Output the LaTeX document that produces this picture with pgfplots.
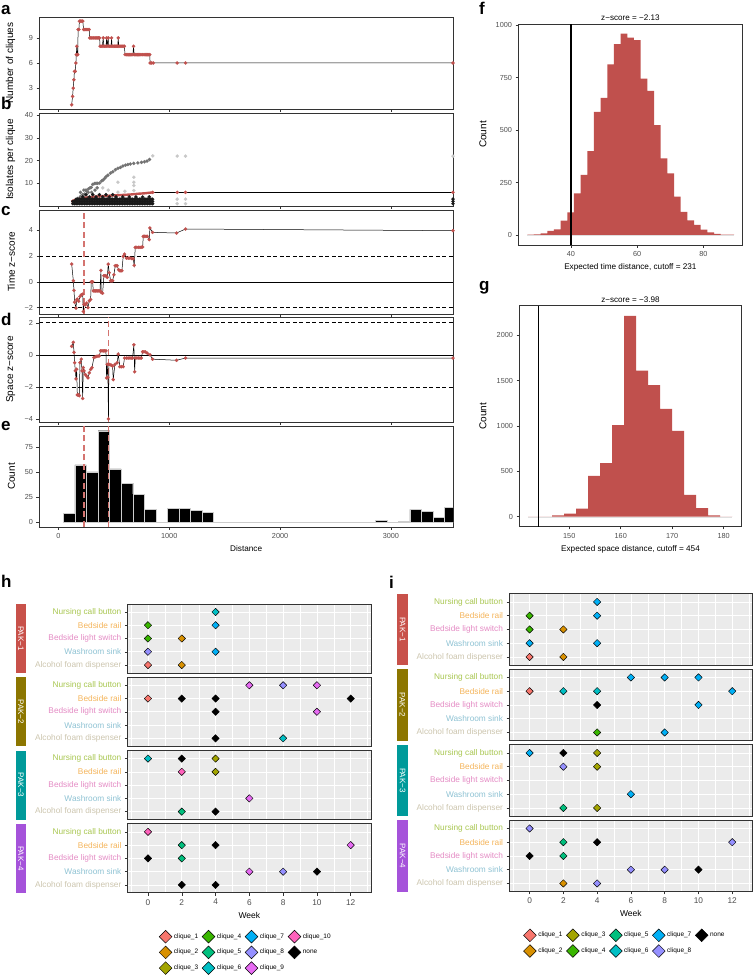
\documentclass[border=0pt]{standalone}
\usepackage{fontspec}
\setmainfont{Liberation Sans}
\usepackage{pgfplots}
\usepackage{pgfplotstable}
\pgfplotsset{compat=1.18}

\definecolor{redb}{RGB}{192,80,77}
\definecolor{reddash}{RGB}{212,116,112}
\definecolor{gg92}{RGB}{235,235,235}
\definecolor{gg20}{RGB}{51,51,51}
\definecolor{gg30}{RGB}{77,77,77}
\definecolor{cl1}{HTML}{F8766D}
\definecolor{cl2}{HTML}{D89000}
\definecolor{cl3}{HTML}{A3A500}
\definecolor{cl4}{HTML}{39B600}
\definecolor{cl5}{HTML}{00BF7D}
\definecolor{cl6}{HTML}{00BFC4}
\definecolor{cl7}{HTML}{00B0F6}
\definecolor{cl8}{HTML}{9590FF}
\definecolor{cl9}{HTML}{E76BF3}
\definecolor{cl10}{HTML}{FF62BC}
\definecolor{nurse}{HTML}{A8C650}
\definecolor{rail}{HTML}{F4B45A}
\definecolor{lightsw}{HTML}{E48BC4}
\definecolor{sink}{HTML}{8EC2D3}
\definecolor{alc}{HTML}{CCC5AE}
\definecolor{pak1}{HTML}{C8514A}
\definecolor{pak2}{HTML}{8C7600}
\definecolor{pak3}{HTML}{009A9A}
\definecolor{pak4}{HTML}{A553DA}
\definecolor{bfaint}{RGB}{200,200,200}
\definecolor{bmid}{RGB}{115,115,115}
\definecolor{bdark}{RGB}{25,25,25}

\tikzset{strip/.style={fill=#1, text=white, rotate=-90, inner sep=0pt, minimum height=10.4pt, font=\fontsize{8}{9}\selectfont}}

\pgfplotsset{
 gg/.style={scale only axis, axis line style={draw=gg20, line width=0.8pt},
   tick style={draw=gg20, line width=0.5pt}, major tick length=2.8pt, minor tick length=0pt,
   tick align=outside, tick pos=left,
   tick label style={font=\fontsize{7.3}{8}\selectfont, text=gg30},
   label style={font=\fontsize{8.2}{9}\selectfont},
   /pgf/number format/assume math mode=true, /pgf/number format/1000 sep={}},
 leftp/.style={gg, anchor=north west, width=413.7pt, xmin=-172, xmax=3560,
   xtick={0,1000,2000,3000},
   every axis y label/.style={at={(axis description cs:-0.05,0.5)}, anchor=south, rotate=90}},
 histp/.style={gg, anchor=north west, height=221pt,
   every axis title/.style={at={(axis description cs:0.5,1)}, anchor=south, font=\fontsize{8.1}{9}\selectfont}},
 facet/.style={gg, anchor=north west, width=243.3pt, height=69pt, clip=false,
   xmin=-1.2, xmax=13.2, ymin=0.4, ymax=5.6,
   axis background/.style={fill=gg92},
   xtick={0,2,...,12}, minor xtick={-1,1,...,13}, ytick={1,2,3,4,5},
   yticklabels={{\textcolor{alc}{Alcohol foam dispenser}},{\textcolor{sink}{Washroom sink}},{\textcolor{lightsw}{Bedside light switch}},{\textcolor{rail}{Bedside rail}},{\textcolor{nurse}{Nursing call button}}},
   xmajorgrids, xminorgrids, ymajorgrids,
   major grid style={white, line width=0.6pt}, minor grid style={white, line width=0.3pt},
   tick label style={font=\fontsize{8.3}{9}\selectfont},
   label style={font=\fontsize{8.5}{9}\selectfont, text=black}},
 topfacet/.style={facet, xticklabels={}, xtick style={draw=none}},
 isodot/.style={only marks, mark=*, mark size=1.7pt, color=#1, mark options={fill=#1, draw=#1, line width=0.1pt}},
}

\newcommand{\dm}[2]{\addplot[forget plot, only marks, mark=square*, mark size=2.6pt, mark options={rotate=45, fill=#1, draw=black, line width=0.45pt}] coordinates {#2};}
\newcommand{\lgd}[2]{\addlegendimage{only marks, mark=square*, mark size=4.5pt, mark options={rotate=45, fill=#1, draw=black, line width=0.5pt}}\addlegendentry{#2}}

\pgfplotstableread[row sep=\\]{x y\\
120 1\\128 2\\134 3\\140 4\\145 5\\152 5\\158 6\\162 7\\166 8\\170 7\\175 7\\178 10\\185 10\\190 11\\200 11\\210 11\\220 11\\228 10\\238 10\\248 10\\258 10\\268 10\\278 10\\282 9\\292 9\\302 9\\312 9\\322 9\\332 9\\342 9\\352 9\\362 9\\372 9\\376 8\\386 8\\396 8\\405 9\\410 8\\420 8\\430 8\\435 9\\440 8\\450 9\\455 8\\465 8\\475 8\\480 9\\485 8\\495 8\\505 8\\515 8\\525 8\\535 8\\540 9\\545 8\\555 8\\565 8\\575 8\\585 8\\595 8\\602 7\\612 7\\622 7\\632 7\\642 7\\652 7\\662 7\\672 7\\678 8\\684 7\\694 7\\704 7\\714 7\\724 7\\734 7\\744 7\\754 7\\764 7\\774 7\\784 7\\794 7\\804 7\\814 7\\824 7\\828 6\\840 6\\856 6\\1072 6\\1147 6\\3560 6\\
}\tabA

% b: dense lower band of cliques
\pgfplotstableread[row sep=\\]{x y\\
130 1\\130 2\\145 1\\145 2\\160 1\\160 2\\160 3\\175 1\\175 2\\175 3\\190 1\\190 2\\190 3\\205 1\\205 2\\205 3\\220 1\\220 2\\220 3\\235 1\\235 2\\235 3\\250 1\\250 2\\250 3\\265 1\\265 2\\265 3\\280 1\\280 2\\280 3\\295 1\\295 2\\295 3\\310 1\\310 2\\310 3\\325 1\\325 2\\325 3\\340 1\\340 2\\340 3\\355 1\\355 2\\355 3\\370 1\\370 2\\370 3\\385 1\\385 2\\385 3\\400 1\\400 2\\400 3\\415 1\\415 2\\415 3\\430 1\\430 2\\430 3\\445 1\\445 2\\445 3\\460 1\\460 2\\460 3\\475 1\\475 2\\475 3\\490 1\\490 2\\490 3\\505 1\\505 2\\505 3\\520 1\\520 2\\520 3\\535 1\\535 2\\535 3\\550 1\\550 2\\550 3\\565 1\\565 2\\565 3\\580 1\\580 2\\580 3\\595 1\\595 2\\595 3\\610 1\\610 2\\610 3\\625 1\\625 2\\625 3\\640 1\\640 2\\640 3\\655 1\\655 2\\655 3\\670 1\\670 2\\670 3\\685 1\\685 2\\685 3\\700 1\\700 2\\700 3\\715 1\\715 2\\715 3\\730 1\\730 2\\730 3\\745 1\\745 2\\745 3\\760 1\\760 2\\760 3\\775 1\\775 2\\775 3\\790 1\\790 2\\790 3\\805 1\\805 2\\805 3\\820 1\\820 2\\820 3\\835 1\\835 2\\835 3\\850 1\\850 2\\850 3\\
220 4\\250 5\\280 4\\310 5\\340 4\\370 5\\400 4\\430 5\\460 4\\490 5\\520 4\\580 4\\640 4\\700 4\\760 4\\820 4\\3560 1\\3560 2\\3560 3\\
}\tabBlow

% b: upper band (largest clique)
\pgfplotstableread[row sep=\\]{x y\\
177 3.4\\200 4.2\\220 5.0\\237 5.3\\255 6.5\\270 7.5\\285 8.0\\297 8.2\\310 9.5\\327 9.9\\340 10\\355 10\\372 10.1\\390 11\\405 11.5\\418 12.2\\432 13\\447 13.6\\470 14.5\\492 15.1\\515 16\\537 16.6\\560 17\\582 17.6\\605 18\\627 18.3\\650 18.5\\680 18.8\\717 19\\750 19.2\\777 19.5\\800 19.8\\822 20.5\\
200 6\\230 7\\250 7\\270 6\\300 6\\330 7\\350 8\\
}\tabBup

% b: sparse points
\pgfplotstableread[row sep=\\]{x y\\
852 22.1\\1072 22\\1147 22\\3560 22\\400 8\\450 7\\537 10.5\\537 6.1\\600 6.5\\681 10.5\\681 12.7\\681 6.8\\681 9\\1072 3\\1147 3\\1072 1\\1147 1\\
}\tabBfaint

\pgfplotstableread[row sep=\\]{x y\\
117 1.9\\130 2.2\\140 2.5\\155 2.8\\170 3.0\\185 3.2\\200 3.4\\220 3.55\\240 3.7\\255 3.75\\268 3.8\\285 3.9\\300 4.0\\325 4.1\\350 4.2\\385 4.3\\418 4.4\\450 4.5\\480 4.6\\510 4.7\\540 4.8\\570 4.85\\600 4.9\\630 5.0\\658 5.1\\690 5.25\\720 5.4\\750 5.5\\780 5.6\\815 5.8\\852 6.0\\
}\tabBred

\pgfplotstableread[row sep=\\]{x y\\
120 1.37\\135 0.08\\141 -0.67\\147 -1.58\\159 -2.04\\165 -1.4\\171 -1.34\\183 -1.5\\195 -1.14\\207 -1.0\\219 -0.96\\225 -2.3\\231 -1.75\\243 -1.78\\255 -1.65\\267 -2.0\\279 -1.47\\291 -1.37\\297 0\\303 0\\309 0\\315 -0.7\\325 -0.7\\335 -0.7\\345 -0.7\\355 -0.7\\365 -0.7\\375 -0.7\\384 0.88\\387 -0.83\\399 -0.88\\411 0.47\\420 0.47\\429 0.47\\441 0.34\\450 1.37\\459 0.7\\471 0.08\\480 0.08\\489 0.08\\501 0.54\\513 1.24\\522 1.24\\531 1.24\\543 0.93\\555 0.85\\564 0.85\\573 0.85\\585 1.96\\597 2.14\\615 1.83\\630 1.83\\645 1.83\\660 1.8\\675 1.78\\684 1.27\\694 2.66\\708 2.66\\722 2.66\\736 2.66\\748 2.67\\760 2.69\\766 3.51\\778 3.51\\790 3.51\\802 3.51\\820 3.26\\826 4.16\\850 3.82\\1066 3.77\\1147 4.08\\3560 3.95\\
}\tabC

\pgfplotstableread[row sep=\\]{x y\\
120 0.53\\135 0.78\\141 0.15\\147 -0.49\\153 -1.0\\159 -1.5\\165 -0.9\\171 -2.5\\177 -2.5\\183 -2.5\\189 -2.55\\195 -0.49\\207 -0.27\\213 -1.0\\219 -2.72\\225 -0.8\\231 -1.0\\243 -1.23\\255 -1.33\\267 -1.44\\279 -1.12\\291 -0.91\\303 -0.8\\321 -0.17\\333 -0.12\\345 -0.1\\357 -0.08\\369 -0.06\\381 0.25\\393 0.25\\405 0.25\\417 0.25\\429 0.25\\435 -1.44\\441 -0.6\\447 -1.4\\452 -4.0\\456 -0.6\\465 -0.6\\477 -0.65\\489 -0.7\\495 -1.55\\510 -0.6\\531 -0.49\\540 0.04\\555 -0.74\\570 -0.74\\585 -0.74\\597 -0.2\\615 -0.2\\630 -0.2\\645 -0.2\\657 -0.2\\669 -0.2\\681 0.63\\688 -1.06\\694 -0.2\\708 -0.2\\722 -0.2\\736 -0.2\\748 -0.2\\760 0.19\\772 0.19\\784 0.19\\802 0.1\\826 0.0\\850 -0.27\\1066 -0.34\\1147 -0.2\\3560 -0.2\\
}\tabD

\begin{document}
\begin{tikzpicture}
\path[use as bounding box] (0pt,0pt) rectangle (753pt,975pt);

% panel labels
\begin{scope}[every node/.style={font=\bfseries\fontsize{17}{17}\selectfont, anchor=base west, inner sep=0pt}]
\node at (1pt,960pt) {a};
\node at (1pt,865pt) {b};
\node at (1pt,759pt) {c};
\node at (1pt,649pt) {d};
\node at (1pt,544pt) {e};
\node at (479pt,960pt) {f};
\node at (479pt,684pt) {g};
\node at (1pt,387pt) {h};
\node at (389pt,386pt) {i};
\end{scope}

% ---- a
\begin{axis}[leftp, at={(39.3pt,958pt)}, height=92pt, ymin=0.5, ymax=11.5, ytick={3,6,9}, xticklabels={}, ylabel={Number of cliques}]
\addplot[black, line width=0.5pt] table {\tabA};
\addplot[isodot=redb] table {\tabA};
\end{axis}

% ---- b
\begin{axis}[leftp, at={(39.3pt,862pt)}, height=93pt, ymin=0, ymax=41, ytick={10,20,30,40}, xticklabels={}, ylabel={Isolates per clique}]
\addplot[isodot=bfaint] table {\tabBfaint};
\addplot[isodot=bmid] table {\tabBup};
\addplot[isodot=bdark] table {\tabBlow};
\addplot[black, line width=0.5pt] coordinates {(852,6.0)(3560,6.0)};
\addplot[redb, line width=2.4pt] table {\tabBred};
\addplot[isodot=redb] coordinates {(852,6.0)(1072,6.0)(1147,6.0)(3560,6.0)};
\end{axis}

% ---- c
\begin{axis}[leftp, at={(39.3pt,765pt)}, height=104pt, ymin=-2.49, ymax=5.55, ytick={-2,0,2,4}, yticklabels={−2,0,2,4}, xticklabels={}, ylabel={Time z−score}]
\addplot[black, line width=0.5pt] coordinates {(-172,0)(3560,0)};
\addplot[black, line width=0.6pt, dash pattern=on 4pt off 2.5pt] coordinates {(-172,2)(3560,2)};
\addplot[black, line width=0.6pt, dash pattern=on 4pt off 2.5pt] coordinates {(-172,-2)(3560,-2)};
\addplot[reddash, line width=1.2pt, dash pattern=on 6pt off 3.5pt] coordinates {(231,-2.49)(231,5.55)};
\addplot[black, line width=0.5pt] table {\tabC};
\addplot[isodot=redb] table {\tabC};
\end{axis}

% ---- d
\begin{axis}[leftp, at={(39.3pt,658pt)}, height=105pt, ymin=-4.19, ymax=2.36, ytick={-4,-2,0,2}, yticklabels={−4,−2,0,2}, xticklabels={}, ylabel={Space z−score}]
\addplot[black, line width=0.5pt] coordinates {(-172,0)(3560,0)};
\addplot[black, line width=0.6pt, dash pattern=on 4pt off 2.5pt] coordinates {(-172,2)(3560,2)};
\addplot[black, line width=0.6pt, dash pattern=on 4pt off 2.5pt] coordinates {(-172,-2)(3560,-2)};
\addplot[reddash, line width=1.2pt, dash pattern=on 6pt off 3.5pt] coordinates {(454,-4.19)(454,2.36)};
\addplot[black, line width=0.5pt] table {\tabD};
\addplot[isodot=redb] table {\tabD};
\end{axis}

% ---- e
\begin{axis}[leftp, at={(39.3pt,549pt)}, height=101pt, ymin=-4.55, ymax=95.6, ytick={0,25,50,75}, xlabel={Distance}, ylabel={Count}]
\addplot[gray!35, line width=0.5pt] coordinates {(45,0)(3588,0)};
\addplot[ybar interval, fill=black, draw=gray!40, line width=0.25pt] coordinates {(45,9)(149.2,57)(253.4,50)(357.6,91)(461.8,53)(566,39)(670.2,28)(774.4,13)(878.6,0)(982.8,14)(1087,14)(1191.2,12)(1295.4,10)(1399.6,0)(2858.4,2)(2962.6,0)(3066.8,1)(3171,13)(3275.2,11)(3379.4,5)(3483.6,15)(3587.8,15)};
\addplot[reddash, line width=1.2pt, dash pattern=on 6pt off 3.5pt] coordinates {(231,-4.55)(231,95.6)};
\addplot[reddash, line width=1.2pt, dash pattern=on 6pt off 3.5pt] coordinates {(454,-4.55)(454,95.6)};
\end{axis}

% ---- f
\begin{axis}[histp, at={(518.3pt,951pt)}, width=224.2pt, xmin=24.1, xmax=91.8, ymin=-48, ymax=1006,
  xtick={40,60,80}, ytick={0,250,500,750,1000},
  title={z−score = −2.13}, xlabel={Expected time distance, cutoff = 231}, ylabel={Count},
  every axis y label/.style={at={(axis description cs:-0.126,0.5)}, anchor=south, rotate=90}]
\addplot[gray!25, line width=0.4pt] coordinates {(26.81,0)(89.24,0)};
\addplot[ybar interval, fill=redb, draw=none] coordinates {(26.81,2)(28.82,3)(30.84,8)(32.85,19)(34.87,27)(36.88,68)(38.89,108)(40.91,198)(42.92,286)(44.94,400)(46.95,587)(48.96,654)(50.98,813)(52.99,910)(55.01,960)(57.02,941)(59.03,929)(61.05,746)(63.06,687)(65.08,524)(67.09,365)(69.10,294)(71.12,183)(73.13,110)(75.15,70)(77.16,48)(79.17,25)(81.19,12)(83.20,5)(85.22,2)(87.23,1)(89.24,1)};
\addplot[black, line width=1.1pt] coordinates {(40,-48)(40,1006)};
\end{axis}

% ---- g
\begin{axis}[histp, at={(519.3pt,669.3pt)}, width=222.4pt, xmin=140.3, xmax=183.5, ymin=-110, ymax=2326,
  xtick={150,160,170,180}, ytick={0,500,1000,1500,2000},
  title={z−score = −3.98}, xlabel={Expected space distance, cutoff = 454}, ylabel={Count},
  every axis y label/.style={at={(axis description cs:-0.132,0.5)}, anchor=south, rotate=90}]
\addplot[gray!25, line width=0.4pt] coordinates {(142.0,0)(181.67,0)};
\addplot[ybar interval, fill=redb, draw=none] coordinates {(142.0,0)(144.33,0)(146.67,15)(149.0,35)(151.33,90)(153.67,450)(156.0,590)(158.33,1010)(160.67,2215)(163.0,1610)(165.33,1450)(167.67,1190)(170.0,945)(172.33,240)(174.67,95)(177.0,15)(179.33,0)(181.67,0)};
\addplot[black, line width=1.1pt] coordinates {(144,-110)(144,2326)};
\end{axis}

% ---- h
\begin{axis}[topfacet, at={(127.7pt,371pt)}]
\node[strip=pak1, minimum width=69pt] at (axis description cs:-0.4386,0.5) {PAK−1};
\dm{cl6}{(4,5)}
\dm{cl4}{(0,4)(0,3)}
\dm{cl7}{(4,4)(4,2)}
\dm{cl2}{(2,3)(2,1)}
\dm{cl8}{(0,2)}
\dm{cl1}{(0,1)}
\end{axis}
\begin{axis}[topfacet, at={(127.7pt,297.7pt)}]
\node[strip=pak2, minimum width=69pt] at (axis description cs:-0.4386,0.5) {PAK−2};
\dm{cl9}{(6,5)(10,5)(10,3)}
\dm{cl8}{(8,5)}
\dm{cl1}{(0,4)}
\dm{black}{(2,4)(4,4)(12,4)(4,3)(4,1)}
\dm{cl6}{(8,1)}
\end{axis}
\begin{axis}[topfacet, at={(127.7pt,224.4pt)}]
\node[strip=pak3, minimum width=69pt] at (axis description cs:-0.4386,0.5) {PAK−3};
\dm{cl6}{(0,5)}
\dm{black}{(2,5)(4,1)}
\dm{cl3}{(4,5)(4,4)}
\dm{cl10}{(2,4)}
\dm{cl9}{(6,2)}
\dm{cl5}{(2,1)}
\end{axis}
\begin{axis}[facet, at={(127.7pt,151.1pt)}, xlabel={Week},
  legend columns=4, legend cell align=left,
  legend style={draw=none, fill=none, at={(axis description cs:0.486,-0.51)}, anchor=north,
    font=\fontsize{6.5}{7}\selectfont, row sep=3pt, /tikz/every even column/.append style={column sep=2pt}}]
\node[strip=pak4, minimum width=69pt] at (axis description cs:-0.4386,0.5) {PAK−4};
\dm{cl10}{(0,5)}
\dm{cl5}{(2,4)(2,3)}
\dm{black}{(4,4)(0,3)(10,2)(2,1)(4,1)}
\dm{cl9}{(12,4)(6,2)}
\dm{cl8}{(8,2)}
\lgd{cl1}{clique\_1}\lgd{cl4}{clique\_4}\lgd{cl7}{clique\_7}\lgd{cl10}{clique\_10}
\lgd{cl2}{clique\_2}\lgd{cl5}{clique\_5}\lgd{cl8}{clique\_8}\lgd{black}{none}
\lgd{cl3}{clique\_3}\lgd{cl6}{clique\_6}\lgd{cl9}{clique\_9}
\end{axis}

% ---- i
\begin{axis}[topfacet, at={(509.3pt,381.3pt)}, width=243.2pt, height=71.5pt]
\node[strip=pak1, minimum width=71.5pt] at (axis description cs:-0.439,0.5) {PAK−1};
\dm{cl7}{(4,5)(4,4)(0,2)(4,2)}
\dm{cl4}{(0,4)(0,3)}
\dm{cl2}{(2,3)(2,1)}
\dm{cl1}{(0,1)}
\end{axis}
\begin{axis}[topfacet, at={(509.3pt,305.8pt)}, width=243.2pt, height=71.5pt]
\node[strip=pak2, minimum width=71.5pt] at (axis description cs:-0.439,0.5) {PAK−2};
\dm{cl7}{(6,5)(8,5)(10,5)(12,4)(10,3)(8,1)}
\dm{cl1}{(0,4)}
\dm{cl6}{(2,4)(4,4)}
\dm{black}{(4,3)}
\dm{cl4}{(4,1)}
\end{axis}
\begin{axis}[topfacet, at={(509.3pt,230.3pt)}, width=243.2pt, height=71.5pt]
\node[strip=pak3, minimum width=71.5pt] at (axis description cs:-0.439,0.5) {PAK−3};
\dm{cl7}{(0,5)(6,2)}
\dm{black}{(2,5)}
\dm{cl3}{(4,5)(4,4)(4,1)}
\dm{cl8}{(2,4)}
\dm{cl5}{(2,1)}
\end{axis}
\begin{axis}[facet, at={(509.3pt,154.8pt)}, width=243.2pt, height=71.5pt, xlabel={Week},
  legend columns=5, legend cell align=left,
  legend style={draw=none, fill=none, at={(axis description cs:0.476,-0.49)}, anchor=north,
    font=\fontsize{6.5}{7}\selectfont, row sep=3pt, /tikz/every even column/.append style={column sep=2pt}}]
\node[strip=pak4, minimum width=71.5pt] at (axis description cs:-0.439,0.5) {PAK−4};
\dm{cl8}{(0,5)(12,4)(6,2)(8,2)(4,1)}
\dm{cl5}{(2,4)(2,3)}
\dm{black}{(4,4)(0,3)(10,2)}
\dm{cl2}{(2,1)}
\lgd{cl1}{clique\_1}\lgd{cl3}{clique\_3}\lgd{cl5}{clique\_5}\lgd{cl7}{clique\_7}\lgd{black}{none}
\lgd{cl2}{clique\_2}\lgd{cl4}{clique\_4}\lgd{cl6}{clique\_6}\lgd{cl8}{clique\_8}
\end{axis}
\end{tikzpicture}
\end{document}
